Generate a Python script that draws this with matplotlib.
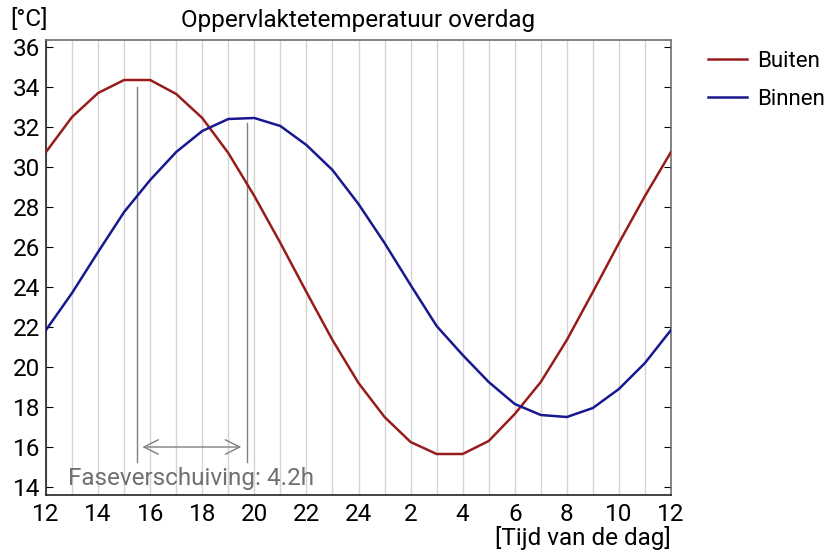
import matplotlib
matplotlib.use("Agg")
import matplotlib.pyplot as plt
import numpy as np

plt.rcParams['font.family'] = ['Roboto', 'DejaVu Sans']

hours = list(range(12, 37))
tick_pos = list(range(12, 37, 2))
tick_labels = ['12', '14', '16', '18', '20', '22', '24', '2', '4', '6', '8', '10', '12']
buiten = [30.75, 32.5, 33.7, 34.35, 34.35, 33.65, 32.45, 30.7, 28.55, 26.2, 23.75, 21.35,
          19.2, 17.5, 16.25, 15.65, 15.65, 16.3, 17.65, 19.25, 21.35, 23.75, 26.2, 28.55, 30.75]
binnen = [21.85, 23.7, 25.75, 27.75, 29.35, 30.75, 31.8, 32.4, 32.45, 32.05, 31.1, 29.85,
          28.15, 26.2, 24.1, 22.05, 20.6, 19.25, 18.15, 17.6, 17.5, 17.95, 18.9, 20.2, 21.85]
yticks = list(range(14, 37, 2))

FS = 17.5
fig = plt.figure(figsize=(8.29, 5.52), dpi=100)
ax = fig.add_axes([46/829, 57/552, 625/829, 455/552])

for h in hours:
    ax.axvline(h, color='#d4d4d4', lw=1.0, zorder=0)

ax.plot(hours, buiten, color='#981c1c', lw=1.8, label='Buiten', zorder=3)
ax.plot(hours, binnen, color='#18188f', lw=1.8, label='Binnen', zorder=3)

# phase shift annotation
ax.plot([15.5, 15.5], [15.25, 34.0], color='#808080', lw=1.0, zorder=2)
ax.plot([19.7, 19.7], [15.25, 32.2], color='#808080', lw=1.0, zorder=2)
ax.annotate('', xy=(15.7, 16.0), xytext=(19.5, 16.0),
            arrowprops=dict(arrowstyle='<->', color='#808080', lw=1.0,
                            mutation_scale=26, shrinkA=0, shrinkB=0))
ax.text(12.85, 14.1, 'Faseverschuiving: 4.2h', color='#707070', fontsize=FS,
        ha='left', va='baseline')

ax.set_xlim(12, 36)
ax.set_ylim(13.6, 36.35)
ax.set_xticks(tick_pos)
ax.set_xticklabels(tick_labels, fontsize=FS)
ax.set_yticks(yticks)
ax.set_yticklabels([str(v) for v in yticks], fontsize=FS)
ax.tick_params(axis='x', length=0, pad=6)
ax.tick_params(axis='y', direction='in', length=5, right=True, left=True, pad=4)
for s in ['top', 'right']:
    ax.spines[s].set_color('#707070')
ax.spines['left'].set_color('#222222')
ax.spines['bottom'].set_color('#222222')
for s in ax.spines.values():
    s.set_linewidth(1.2)

fig.text(358/829, 1 - 20/552, 'Oppervlaktetemperatuur overdag', ha='center', va='center', fontsize=FS)
fig.text(10/829, 1 - 20/552, '[°C]', ha='left', va='center', fontsize=FS)
fig.text(671/829, 1 - 538/552, '[Tijd van de dag]', ha='right', va='center', fontsize=FS)

leg = fig.legend(loc='upper left', bbox_to_anchor=(708/829, 1 - 51/552), frameon=False,
                 fontsize=16, handlelength=1.75, labelspacing=0.75, handletextpad=0.45,
                 borderaxespad=0, borderpad=0)

fig.savefig('out.png', dpi=100)
